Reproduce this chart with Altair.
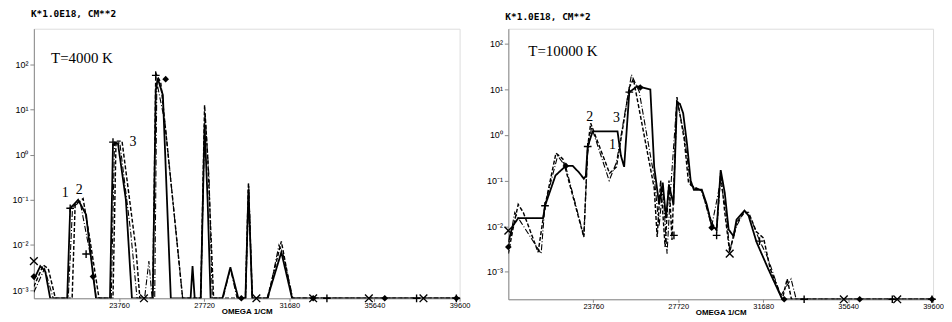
import altair as alt
import pandas as pd

# ---------------- data: left panel (T = 4000 K) ----------------
FLOOR_L = 6.6e-4
TOP_L = 617
F = FLOOR_L
L_X1 = [19800, 20100, 20330, 20560, 21350, 21490, 21860, 22230, 22550, 22690, 23340, 23480, 23710, 24080, 24360,
        25330, 25470, 25560, 25800, 26170, 27090, 27180, 27280, 27560, 27740, 27880, 28020, 28570, 28940, 29310,
        29640, 29780, 29960, 30660, 31310, 31810, 39600]
L_Y1 = [0.0017, 0.0034, 0.0026, F, F, 0.065, 0.10, 0.047, 0.0022, F, F, 1.7, 1.8, 0.10, F,
        F, 27, 49, 21, F, F, 0.0034, F, F, 4.6, 0.10, F, F, 0.0032, F,
        F, 0.17, F, F, 0.0069, F, F]
L_X2 = [19800, 20240, 20470, 20800, 21580, 21720, 22090, 22420, 22830, 23480, 23620, 23900, 24550, 24730, 25330,
        25470, 25700, 26260, 26720, 27560, 27740, 27880, 28160, 29640, 29780, 29960, 30660, 31310, 31810, 39600]
L_Y2 = [0.0012, 0.0036, 0.0030, F, F, 0.078, 0.107, 0.012, F, F, 2.0, 2.0, 0.008, F, F,
        63, 40, 0.10, F, F, 12.5, 1.0, F, F, 0.24, F, F, 0.012, F, F]
L_X3 = [19800, 20300, 20700, 21400, 21600, 21950, 22500, 22700, 23400, 23550, 23800, 24300, 24600, 24950, 25150,
        25300, 25420, 25520, 25900, 26720, 27560, 27760, 27950, 28100, 28600, 28940, 29250, 29650, 29800, 29950,
        30700, 31200, 31400, 31850, 39600]
L_Y3 = [0.0009, 0.0030, F, F, 0.07, 0.09, 0.004, F, F, 1.9, 1.8, 0.02, F, F, 0.0044,
        F, F, 40, 5.0, F, F, 8.0, 0.3, F, F, 0.0030, F, F, 0.20, F,
        F, 0.010, 0.006, F, F]
L_PLUS_X = [21490, 22230, 23480, 25470, 33430, 37600, 39450]
L_PLUS_Y = [0.065, 0.0063, 1.9, 57, F, F, F]
L_DIAM_X = [19800, 22550, 25930, 29450, 32790, 36120, 39450]
L_DIAM_Y = [0.0020, 0.0020, 47, F, F, F, F]
L_CROSS_X = [19800, 24920, 30150, 32790, 35380, 37920]
L_CROSS_Y = [0.0044, F, F, F, F, F]
L_LAB_T = ["1", "2", "3"]
L_LAB_X = [21260, 21910, 24410]
L_LAB_Y = [0.144, 0.167, 1.9]
L_TEMP = "T=4000 K"
L_TEMP_X, L_TEMP_Y = 20600, 135

# ---------------- data: right panel (T = 10000 K) ----------------
FLOOR_R = 2.5e-4
TOP_R = 214
G = FLOOR_R
R_X1 = [19800, 20000, 20260, 21420, 21510, 22000, 22480, 22800, 23100, 23320, 23410, 23500, 23730, 24890, 25050,
        25200, 25440, 25810, 26420, 26600, 26830, 27000, 27150, 27290, 27500, 27660, 27800, 27950, 28130, 28300,
        28450, 28820, 29050, 29280, 29510, 29700, 29890, 30070, 30300, 30440, 30810, 31000, 31370, 31920, 32570, 39600]
R_Y1 = [0.0045, 0.010, 0.015, 0.015, 0.028, 0.13, 0.21, 0.21, 0.15, 0.11, 0.125, 0.56, 1.2, 1.2, 0.35,
        0.2, 8.7, 11.7, 10, 0.2, 0.03, 0.09, 0.015, 0.08, 0.03, 5.3, 4.8, 3.0, 0.64, 0.1,
        0.063, 0.063, 0.03, 0.0104, 0.0085, 0.17, 0.054, 0.0085, 0.006, 0.014, 0.022, 0.017, 0.0045, 0.00115, G, G]
R_X2 = [19800, 20000, 20260, 20500, 21190, 21510, 22020, 22340, 23320, 23500, 23640, 24520, 24840, 25440, 25630,
        26600, 26740, 26900, 27110, 27290, 27430, 27660, 28000, 28200, 28450, 28820, 29280, 29510, 29700, 29890,
        30120, 30440, 30810, 31000, 31370, 31700, 32000, 32570, 32800, 33000, 39600]
R_Y2 = [0.0025, 0.008, 0.030, 0.02, 0.0027, 0.028, 0.40, 0.3, 0.0058, 0.56, 1.8, 0.145, 0.2, 11, 17,
        0.069, 0.0058, 0.1, 0.0035, 0.1, 0.005, 6.8, 0.8, 0.09, 0.07, 0.06, 0.012, 0.008, 0.15, 0.02,
        0.0027, 0.012, 0.02, 0.02, 0.0075, 0.0055, 0.0012, G, 0.0007, G, G]
R_X3 = [19800, 20100, 20400, 21330, 21510, 22100, 22480, 23320, 23500, 23680, 24500, 24840, 25540, 25900, 26600,
        26830, 27000, 27200, 27350, 27660, 28000, 28300, 28820, 29280, 29700, 29950, 30120, 30440, 30810, 31100,
        31500, 31900, 32500, 32980, 33220, 39600]
R_Y3 = [0.0035, 0.02, 0.012, 0.0025, 0.03, 0.35, 0.2, 0.006, 0.4, 1.5, 0.1, 0.25, 21, 9, 0.12,
        0.01, 0.07, 0.0025, 0.05, 6, 1, 0.08, 0.06, 0.01, 0.1, 0.02, 0.003, 0.01, 0.022, 0.015,
        0.005, 0.002, 0.0003, 0.0007, G, G]
R_PLUS_X = [21510, 23500, 25440, 27520, 29510, 31510, 33590, 37700, 39550]
R_PLUS_Y = [0.028, 0.56, 8.7, 0.0063, 0.0063, 0.0047, G, G, G]
R_DIAM_X = [19800, 22480, 25950, 29280, 32660, 36180, 39550]
R_DIAM_Y = [0.0035, 0.21, 11, 0.0093, G, G, G]
R_CROSS_X = [19800, 30120, 35440, 37930]
R_CROSS_Y = [0.008, 0.0025, G, G]
R_LAB_T = ["2", "3", "1"]
R_LAB_X = [23590, 24840, 24660]
R_LAB_Y = [2.5, 2.3, 0.59]
R_TEMP = "T=10000 K"
R_TEMP_X, R_TEMP_Y = 20730, 71

X_TICKS = [23760, 27720, 31680, 35640, 39600]
Y_TICKS = [1e-3, 1e-2, 1e-1, 1, 10, 100]
UNITS = "K*1.0E18, CM**2"
X_TITLE = "OMEGA 1/CM"

MONO = "DejaVu Sans Mono"
SERIF = "Liberation Serif"
PLUS_PATH = "M -1 0 L 1 0 M 0 -1 L 0 1"
CROSS_PATH = "M -1 -1 L 1 1 M -1 1 L 1 -1"


def panel(x1, y1, x2, y2, x3, y3, px, py, dx, dy, cx, cy, lt, lx, ly, temp, tx, ty, floor, top, w, h, toff):
    curves = pd.concat([
        pd.DataFrame({"x": x1, "y": y1, "c": "1"}),
        pd.DataFrame({"x": x2, "y": y2, "c": "2"}),
        pd.DataFrame({"x": x3, "y": y3, "c": "3"}),
    ])
    xs = alt.Scale(domain=[19800, 39600], nice=False, zero=False)
    ys = alt.Scale(type="log", domain=[floor, top], nice=False)
    xax = alt.Axis(values=X_TICKS, format="d", title=X_TITLE, grid=False, tickSize=3, labelPadding=0,
                   labelFontSize=7.5, titleFontSize=8, labelFlush=False,
                   titleY=13, titleBaseline="middle")
    yax = alt.Axis(values=Y_TICKS, title=None, grid=False, tickSize=4, labelPadding=2, labelFontSize=9,
                   minExtent=25, maxExtent=25,
                   labelExpr="'10' + ['⁻³','⁻²','⁻¹','⁰','¹','²'][round(log(datum.value)/LN10)+3]")
    X = alt.X("x:Q", scale=xs, axis=xax)
    Y = alt.Y("y:Q", scale=ys, axis=yax)

    lines = alt.Chart(curves).mark_line(color="black", clip=True).encode(
        x=X, y=Y, detail="c:N",
        strokeDash=alt.StrokeDash("c:N", scale=alt.Scale(domain=["1", "2", "3"],
                                                         range=[[1, 0], [4, 2], [6, 2, 1, 2]]), legend=None),
        strokeWidth=alt.StrokeWidth("c:N", scale=alt.Scale(domain=["1", "2", "3"], range=[1.8, 1.1, 1.1]),
                                    legend=None),
        order="x:Q",
    )
    plus = alt.Chart(pd.DataFrame({"x": px, "y": py})).mark_point(
        shape=PLUS_PATH, size=60, color="black", strokeWidth=1.4, filled=False, opacity=1, clip=False
    ).encode(x=X, y=Y)
    diam = alt.Chart(pd.DataFrame({"x": dx, "y": dy})).mark_point(
        shape="diamond", size=45, color="black", filled=True, opacity=1
    ).encode(x=X, y=Y)
    cross = alt.Chart(pd.DataFrame({"x": cx, "y": cy})).mark_point(
        shape=CROSS_PATH, size=60, color="black", strokeWidth=1.4, filled=False, opacity=1
    ).encode(x=X, y=Y)
    labels = alt.Chart(pd.DataFrame({"t": lt, "x": lx, "y": ly})).mark_text(
        font=SERIF, fontSize=14, color="black", baseline="middle", align="center"
    ).encode(x=X, y=Y, text="t:N")
    ttl = alt.Chart(pd.DataFrame({"t": [temp], "x": [tx], "y": [ty]})).mark_text(
        font=SERIF, fontSize=15, color="black", baseline="middle", align="left"
    ).encode(x=X, y=Y, text="t:N")
    return alt.layer(lines, plus, diam, cross, labels, ttl).properties(
        width=w, height=h,
        title=alt.TitleParams(UNITS, anchor="start", frame="group", font=MONO, fontSize=9.5,
                              fontWeight="bold", offset=toff, dx=-3, color="black"),
    )


left = panel(L_X1, L_Y1, L_X2, L_Y2, L_X3, L_Y3, L_PLUS_X, L_PLUS_Y, L_DIAM_X, L_DIAM_Y,
             L_CROSS_X, L_CROSS_Y, L_LAB_T, L_LAB_X, L_LAB_Y, L_TEMP, L_TEMP_X, L_TEMP_Y,
             FLOOR_L, TOP_L, 428, 271, 10)
right = panel(R_X1, R_Y1, R_X2, R_Y2, R_X3, R_Y3, R_PLUS_X, R_PLUS_Y, R_DIAM_X, R_DIAM_Y,
              R_CROSS_X, R_CROSS_Y, R_LAB_T, R_LAB_X, R_LAB_Y, R_TEMP, R_TEMP_X, R_TEMP_Y,
              FLOOR_R, TOP_R, 427, 272, 7)

chart = alt.hconcat(left, right, spacing=12).configure_view(
    stroke="black", strokeWidth=1.5
).configure_axis(
    labelFont=MONO, labelFontWeight="bold", labelColor="black", titleFont=MONO, titleFontWeight="bold",
    titleColor="black", domainColor="black", tickColor="black", domainWidth=1.5, tickWidth=1.5
).configure(background="white", padding=0)

chart.save("out.html", embed_options={"renderer": "svg", "actions": False})
